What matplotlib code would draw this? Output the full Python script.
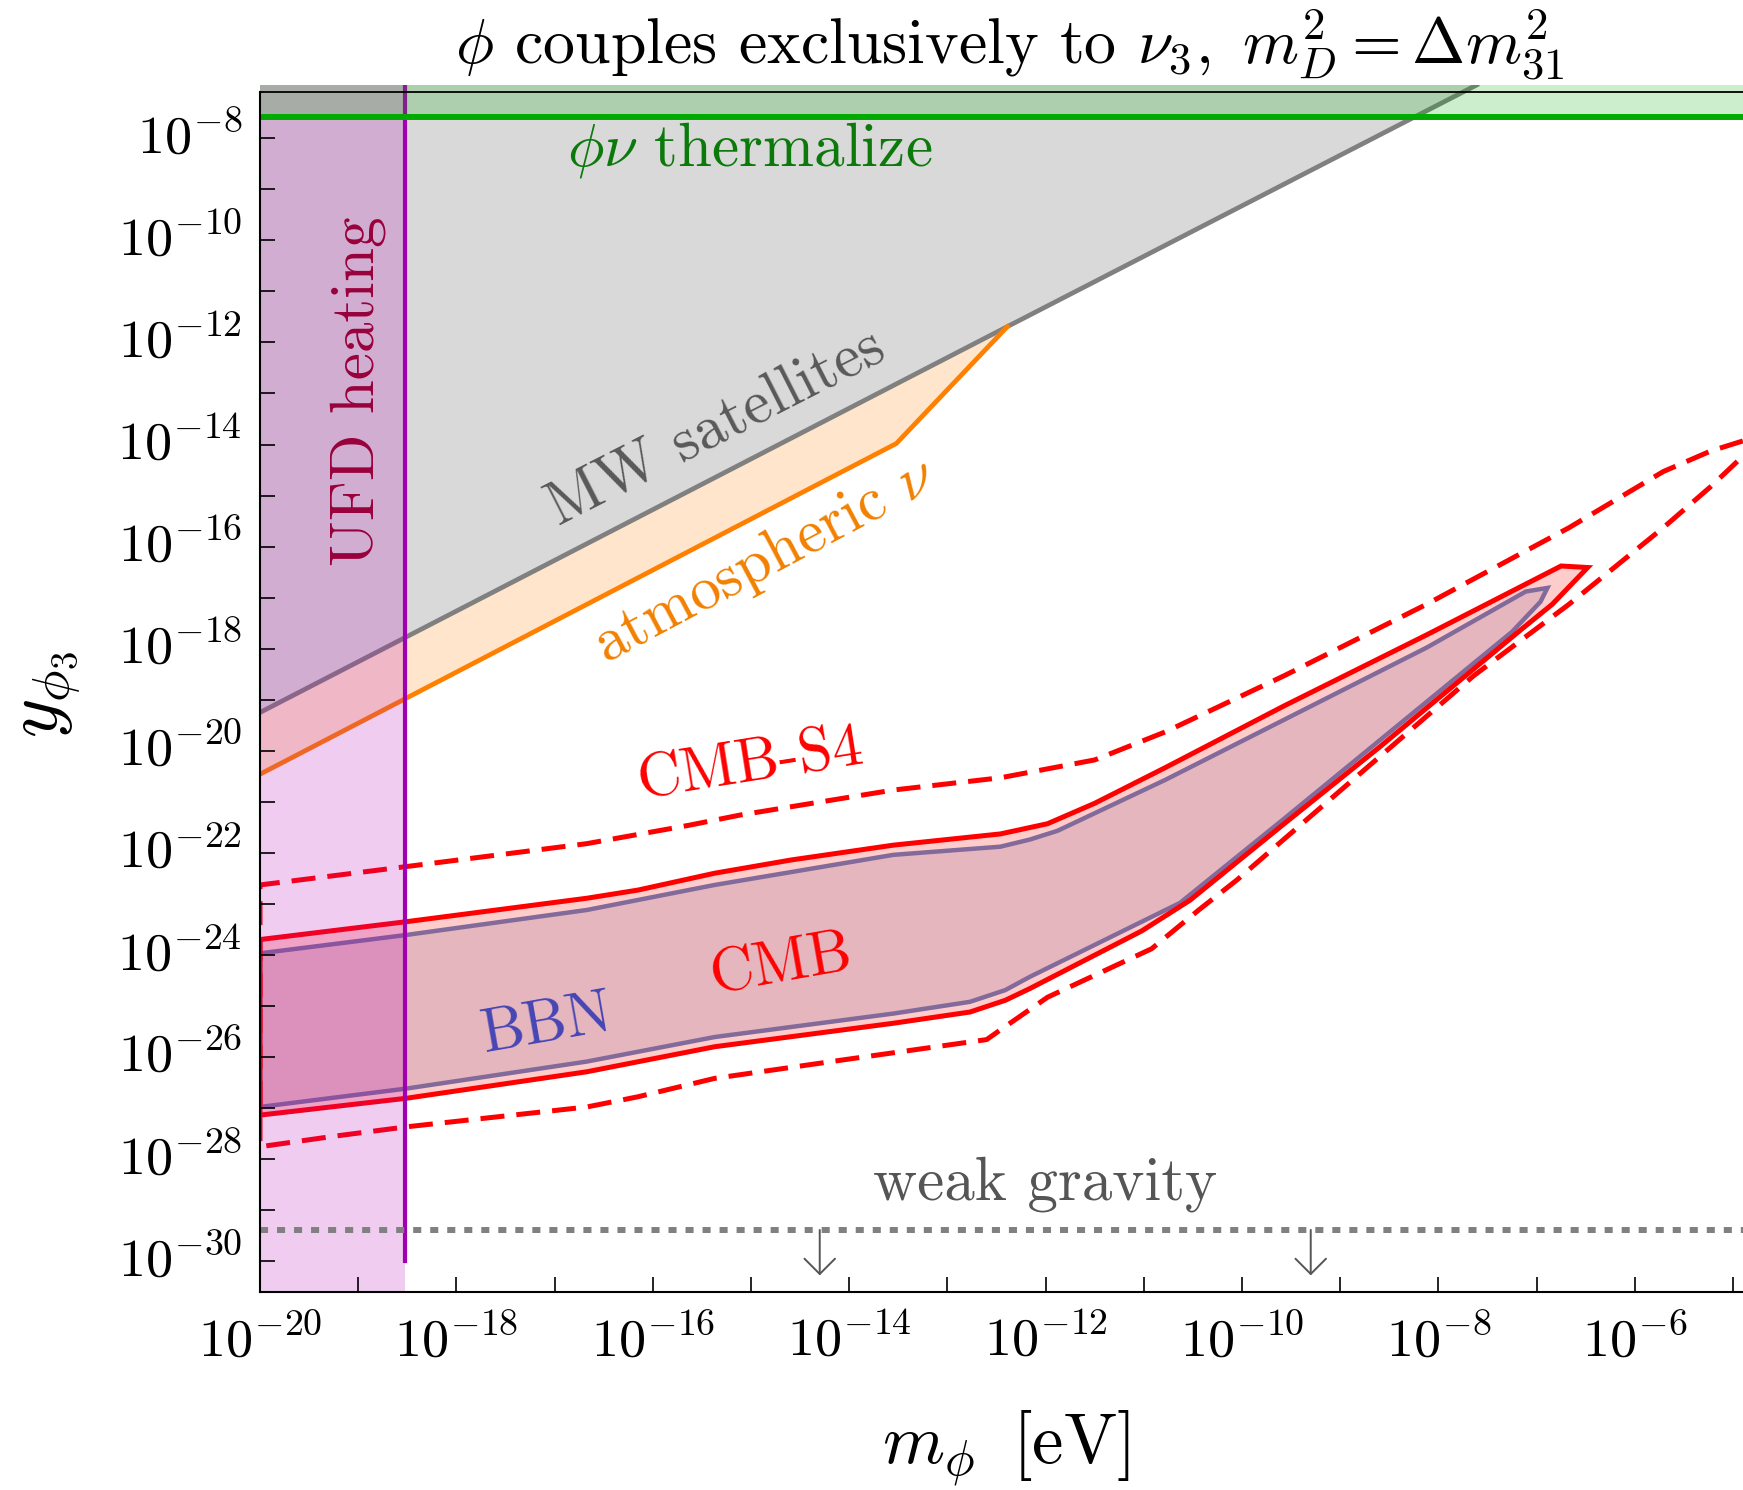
import numpy as np
import matplotlib

matplotlib.use("Agg")
import matplotlib.pyplot as plt
from matplotlib.ticker import NullLocator
from matplotlib.transforms import ScaledTranslation

plt.rcParams["font.family"] = ["cmr10"]
plt.rcParams["mathtext.fontset"] = "cm"
plt.rcParams["axes.formatter.use_mathtext"] = True
plt.rcParams["axes.unicode_minus"] = False

# all values are log10 of m_phi [eV] and of the coupling y
x_range_log = [-20.0, -4.898]
y_range_log = [-30.60, -6.955]
frame_top_log = -7.093

x_tick_exp = list(range(-20, -4))
y_tick_exp = list(range(-30, -7))

# MW satellites bound (region above)
mw_log_m = [-20.0, -12.39, -7.61]
mw_log_y = [-19.25, -11.69, -6.955]

# atmospheric neutrino bound (region between this and MW line)
atm_log_m = [-20.0, -13.52, -12.39]
atm_log_y = [-20.46, -13.98, -11.69]

# CMB region (solid red): upper edge left->right, lower edge right->left
cmb_up_m = [-20.00, -18.51, -16.67, -16.15, -15.37, -14.59, -13.55, -12.46, -11.98,
            -11.50, -10.78, -9.57, -8.12, -6.75, -6.48]
cmb_up_y = [-23.70, -23.35, -22.89, -22.73, -22.40, -22.14, -21.85, -21.63, -21.43,
            -21.03, -20.33, -19.12, -17.73, -16.38, -16.41]
cmb_lo_m = [-6.84, -7.16, -8.60, -9.57, -10.53, -11.02, -12.16, -12.41, -12.77,
            -13.55, -15.37, -16.67, -18.51, -20.00]
cmb_lo_y = [-17.13, -17.63, -19.93, -21.43, -22.93, -23.53, -24.66, -24.89, -25.12,
            -25.34, -25.80, -26.29, -26.81, -27.14]

# BBN region
bbn_up_m = [-20.00, -18.51, -16.67, -15.37, -13.55, -12.46, -12.16, -11.88, -10.78,
            -8.12, -7.11, -6.89]
bbn_up_y = [-23.97, -23.61, -23.12, -22.63, -22.04, -21.88, -21.74, -21.57, -20.57,
            -17.98, -16.88, -16.81]
bbn_lo_m = [-6.96, -7.25, -9.57, -10.63, -12.16, -12.41, -12.77, -13.55, -15.37,
            -16.67, -18.51, -20.00]
bbn_lo_y = [-17.08, -17.67, -21.33, -22.98, -24.43, -24.69, -24.92, -25.15, -25.61,
            -26.09, -26.62, -26.98]

# CMB-S4 projection (dashed), open towards the right edge
s4_up_m = [-20.00, -18.51, -16.67, -15.63, -15.11, -13.55, -12.46, -11.50, -10.78,
           -9.57, -8.12, -6.67, -5.71, -5.23, -4.90]
s4_up_y = [-22.63, -22.27, -21.82, -21.46, -21.26, -20.77, -20.53, -20.18, -19.63,
           -18.53, -17.13, -15.63, -14.53, -14.13, -13.93]
s4_lo_m = [-20.00, -19.27, -18.51, -16.67, -16.15, -15.37, -14.07, -12.60, -12.46,
           -11.98, -10.92, -10.44, -10.05, -9.57, -8.60, -7.64, -6.67, -5.71, -5.23, -4.90]
s4_lo_y = [-27.76, -27.56, -27.37, -26.98, -26.78, -26.42, -26.06, -25.66, -25.47,
           -24.83, -23.88, -23.12, -22.53, -21.73, -20.12, -18.53, -17.13, -15.63, -14.83, -14.23]

ufd_log_m = -18.52
ufd_line_bottom_log = -30.0
thermal_log_y = -7.58
weak_gravity_log_y = -29.39
arrow_log_m = [-14.30, -9.30]
arrow_tip_log_y = -30.28

labels = [
    # text, log m, log y, rotation, colour
    ("UFD heating", -19.00, -12.95, 90, "#99003b"),
    (r"$\phi\nu$ thermalize", -15.01, -8.23, 0, "#0b7a0b"),
    ("MW satellites", -15.35, -13.68, 27, "#595959"),
    (r"atmospheric $\nu$", -14.86, -16.28, 28, "#f28000"),
    ("CMB-S4", -15.00, -20.28, 9, "#ff0000"),
    ("CMB", -14.69, -24.20, 10, "#ff0000"),
    ("BBN", -17.07, -25.38, 10, "#4646b4"),
    ("weak gravity", -12.01, -28.49, 0, "#555555"),
]


def p(a):
    return 10.0 ** np.asarray(a, dtype=float)


fig = plt.figure(figsize=(17.43, 14.90), dpi=100)
ax = fig.add_axes([0.14917, 0.13309, 0.85083, 0.80987])
ax.set_xscale("log")
ax.set_yscale("log")
ax.set_xlim(p(x_range_log))
ax.set_ylim(p(y_range_log))
top = p(y_range_log[1])

# MW satellites
ax.fill(np.r_[p(mw_log_m), p(mw_log_m[0])], np.r_[p(mw_log_y), top],
        color="black", alpha=0.15, lw=0, zorder=1)
ax.plot(p(mw_log_m), p(mw_log_y), color="#808080", lw=3.4, zorder=2)

# atmospheric nu
ax.fill(np.r_[p(atm_log_m), p(mw_log_m[0])], np.r_[p(atm_log_y), p(mw_log_y[0])],
        color="#ff8000", alpha=0.2, lw=0, zorder=1)
ax.plot(p(atm_log_m), p(atm_log_y), color="#ff8000", lw=3.4, zorder=2)

# CMB and BBN
cmb_m = p(cmb_up_m + cmb_lo_m)
cmb_y = p(cmb_up_y + cmb_lo_y)
ax.fill(cmb_m, cmb_y, color="red", alpha=0.2, lw=0, zorder=3)
bbn_m = p(bbn_up_m + bbn_lo_m)
bbn_y = p(bbn_up_y + bbn_lo_y)
ax.fill(bbn_m, bbn_y, color="#7d5e86", alpha=0.2, lw=0, zorder=3)
ax.plot(np.r_[bbn_m, bbn_m[0]], np.r_[bbn_y, bbn_y[0]], color="#826a9a", lw=3.2,
        zorder=3.4, solid_joinstyle="miter")
ax.plot(np.r_[cmb_m, cmb_m[0]], np.r_[cmb_y, cmb_y[0]], color="red", lw=3.6,
        zorder=3.5, solid_joinstyle="miter")

s4_m = p(s4_up_m[::-1] + s4_lo_m)
s4_y = p(s4_up_y[::-1] + s4_lo_y)
ax.plot(s4_m, s4_y, color="red", lw=3.6, ls=(0, (4.8, 2.4)), zorder=3.5)

# UFD heating
ax.axvspan(p(x_range_log[0]), p(ufd_log_m), color="#b400b4", alpha=0.2, lw=0, zorder=4)
ax.plot([p(ufd_log_m)] * 2, [p(ufd_line_bottom_log), top], color="#a000b0", lw=3,
        zorder=4.5)

# phi-nu thermalization
ax.axhspan(p(thermal_log_y), top, color="#00aa00", alpha=0.2, lw=0, zorder=5)
ax.axhline(p(thermal_log_y), color="#00aa00", lw=4.3, zorder=5.5)

# weak gravity
ax.axhline(p(weak_gravity_log_y), color="#808080", lw=4.3, ls=(0, (1.35, 1.5)), zorder=6)
for m in arrow_log_m:
    ax.annotate("", xy=(p(m), p(arrow_tip_log_y)), xytext=(p(m), p(weak_gravity_log_y)),
                arrowprops=dict(arrowstyle="->,head_length=0.55,head_width=0.55",
                                color="#555555", lw=1.4, shrinkA=0, shrinkB=0,
                                mutation_scale=20),
                zorder=6)

ax.axhline(p(frame_top_log), color="black", lw=1.3, zorder=7)

for text, lm, ly, rot, col in labels:
    ax.text(p(lm), p(ly), text, rotation=rot, color=col, fontsize=44,
            ha="center", va="center", rotation_mode="anchor", zorder=8)

# axes styling
for side in ("top", "right"):
    ax.spines[side].set_visible(False)
ax.spines["left"].set_bounds(p(y_range_log[0]), p(frame_top_log))
for side in ("left", "bottom"):
    ax.spines[side].set_linewidth(1.5)
    ax.spines[side].set_zorder(9)
ax.xaxis.set_zorder(9)
ax.yaxis.set_zorder(9)

ax.set_xticks(p(x_tick_exp))
ax.set_xticklabels([rf"$10^{{{e}}}$" if e % 2 == 0 else "" for e in x_tick_exp])
ax.set_yticks(p(y_tick_exp))
ax.set_yticklabels([rf"$10^{{{e}}}$" if e % 2 == 0 else "" for e in y_tick_exp])
ax.xaxis.set_minor_locator(NullLocator())
ax.yaxis.set_minor_locator(NullLocator())
ax.tick_params(which="major", direction="in", length=10.8, width=1.2, labelsize=39)
ax.tick_params(axis="x", pad=16.5)
ax.tick_params(axis="y", pad=13)
shift_up = ScaledTranslation(0, 4 / 72, fig.dpi_scale_trans)
for lab in ax.get_yticklabels():
    lab.set_transform(lab.get_transform() + shift_up)

fig.text(1010 / 1743, 1 - 64 / 1490,
         r"$\phi$ couples exclusively to $\nu_3,\ m_D^2 = \Delta m^2_{31}$",
         ha="center", va="baseline", fontsize=46)
fig.text(1006 / 1743, 1 - 1448 / 1490, r"$m_\phi\,$ [eV]", ha="center", va="center",
         fontsize=51)
fig.text(50 / 1743, 1 - 695 / 1490, r"$y_{\phi_3}$", rotation=90, ha="center",
         va="center", fontsize=54)

fig.savefig("out.png", dpi=100)
